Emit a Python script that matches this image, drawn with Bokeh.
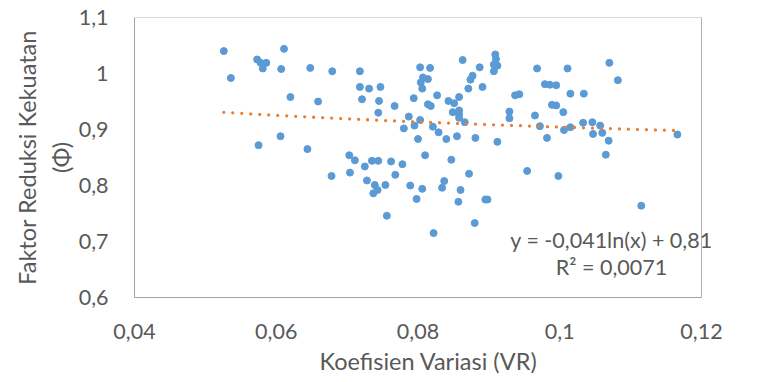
import numpy as np
from bokeh.plotting import figure
from bokeh.models import Range1d, FixedTicker, CustomJSTickFormatter, Label, Title, BoxAnnotation
from bokeh.embed import file_html
from bokeh.resources import INLINE

# Koefisien Variasi (VR)
vr = [0.0526, 0.0536, 0.0573, 0.0578, 0.0581, 0.0586, 0.0607, 0.0611, 0.0648, 0.0620, 0.0659, 0.0679,
      0.0575, 0.0606, 0.0644, 0.0678,
      0.0718, 0.0718, 0.0731, 0.0747, 0.0721, 0.0745, 0.0744, 0.0767, 0.0703, 0.0711, 0.0725, 0.0735,
      0.0744, 0.0762, 0.0704, 0.0728, 0.0739, 0.0743, 0.0737, 0.0754, 0.0768, 0.0756, 0.0778,
      0.0780, 0.0787, 0.0803, 0.0817, 0.0807, 0.0814, 0.0804, 0.0806, 0.0794, 0.0827, 0.0814, 0.0818,
      0.0803, 0.0795, 0.0800, 0.0821, 0.0829, 0.0840, 0.0855, 0.0881, 0.0912, 0.0863, 0.0843, 0.0851,
      0.0849, 0.0858, 0.0858, 0.0858, 0.0858, 0.0866, 0.0871, 0.0874, 0.0877, 0.0887, 0.0891, 0.0909,
      0.0910, 0.0907, 0.0912, 0.0907, 0.0937, 0.0943, 0.0929, 0.0929, 0.0810, 0.0847, 0.0872, 0.0789,
      0.0806, 0.0798, 0.0837, 0.0834, 0.0860, 0.0857, 0.0895, 0.0898, 0.0880, 0.0822,
      0.0968, 0.1011, 0.1070, 0.1082, 0.0979, 0.0986, 0.0995, 0.1015, 0.1034, 0.0989, 0.0995, 0.1005,
      0.0965, 0.0972, 0.0982, 0.1006, 0.1015, 0.1033, 0.1046, 0.1047, 0.1057, 0.1060, 0.1069, 0.1166,
      0.0954, 0.0998, 0.1065, 0.1115]

# Faktor Reduksi Kekuatan (phi)
phi = [1.040, 0.992, 1.025, 1.019, 1.009, 1.019, 1.008, 1.044, 1.010, 0.958, 0.950, 1.004,
       0.872, 0.888, 0.865, 0.817,
       1.004, 0.976, 0.973, 0.976, 0.954, 0.951, 0.930, 0.942, 0.854, 0.845, 0.834, 0.844,
       0.844, 0.843, 0.823, 0.809, 0.801, 0.792, 0.786, 0.801, 0.819, 0.746, 0.838,
       0.902, 0.923, 1.011, 1.010, 0.993, 0.990, 0.984, 0.973, 0.956, 0.961, 0.945, 0.942,
       0.917, 0.907, 0.883, 0.905, 0.895, 0.883, 0.888, 0.885, 0.878, 1.024, 0.951, 0.947,
       0.931, 0.958, 0.934, 0.927, 0.921, 0.913, 0.973, 0.989, 0.996, 1.011, 0.976, 1.034,
       1.026, 1.016, 1.014, 1.004, 0.961, 0.963, 0.932, 0.920, 0.854, 0.846, 0.821, 0.800,
       0.794, 0.776, 0.808, 0.796, 0.792, 0.771, 0.775, 0.775, 0.733, 0.715,
       1.009, 1.009, 1.019, 0.988, 0.981, 0.980, 0.979, 0.964, 0.964, 0.944, 0.943, 0.931,
       0.925, 0.906, 0.885, 0.899, 0.904, 0.912, 0.913, 0.892, 0.907, 0.894, 0.880, 0.891,
       0.826, 0.817, 0.855, 0.764]

x_ticks = [0.04, 0.06, 0.08, 0.10, 0.12]
y_ticks = [0.6, 0.7, 0.8, 0.9, 1.0, 1.1]
x_min, x_max = 0.04, 0.12
y_min, y_max = 0.6, 1.1

# logarithmic trendline: y = a*ln(x) + b
trend_a = -0.041
trend_b = 0.81
equation_text = "y = -0,041ln(x) + 0,81"
r2_text = "R² = 0,0071"
x_title = "Koefisien Variasi (VR)"
y_title_lines = ["Faktor Reduksi Kekuatan", "(Φ)"]

FONT = "Lato"
GREY = "#595959"
FS = "21.5px"
TITLE_FS = "23.5px"

# plot area: 567 px for 0.04..0.12; frame extended 21 px to the right so the
# trendline label can overhang the plot-area border like in the original
PLOT_W = 567
EXTRA_R = 21
x_end = x_max + (x_max - x_min) * EXTRA_R / PLOT_W

p = figure(width=760, height=382, output_backend="svg", toolbar_location=None,
           x_range=Range1d(x_min, x_end), y_range=Range1d(y_min, y_max),
           min_border_left=134, min_border_right=760 - 134 - PLOT_W - EXTRA_R,
           min_border_top=17, min_border_bottom=85)
p.xgrid.visible = False
p.ygrid.visible = False
p.outline_line_color = None
p.background_fill_color = "white"
p.border_fill_color = "white"

# plot-area border
p.add_layout(BoxAnnotation(left=x_min, right=x_max, bottom=y_min, top=y_max,
                           fill_color=None, line_color="#000000", line_width=1))

fmt = CustomJSTickFormatter(code="return String(Number(tick.toFixed(4))).replace('.', ',');")
for ax in (p.xaxis[0], p.yaxis[0]):
    ax.formatter = fmt
    ax.major_tick_line_color = None
    ax.minor_tick_line_color = None
    ax.axis_line_color = "#bfbfbf"
    ax.major_label_text_font = FONT
    ax.major_label_text_font_size = FS
    ax.major_label_text_color = GREY
p.xaxis[0].ticker = FixedTicker(ticks=x_ticks)
p.yaxis[0].ticker = FixedTicker(ticks=y_ticks)
p.xaxis[0].bounds = (x_min, x_max)
p.xaxis[0].major_label_standoff = 20
p.yaxis[0].major_label_standoff = 20

p.scatter(vr, phi, size=7, fill_color="#5b9bd5", line_color="#5b9bd5")

tx = np.linspace(min(vr), max(vr), 200)
ty = trend_a * np.log(tx) + trend_b
p.line(tx, ty, line_color="#ed7d31", line_width=3.3, line_dash="0 9", line_cap="round")

def lab(text, x, y):
    p.add_layout(Label(x=x, y=y, x_units="screen", y_units="screen", text=text,
                       text_align="center", text_baseline="middle", text_font=FONT,
                       text_font_size=FS, text_color=GREY))

lab(equation_text, 477, 58)
lab(r2_text, 477, 31)

def title(text, side, standoff):
    p.add_layout(Title(text=text, align="center", text_font=FONT, text_font_size=TITLE_FS,
                       text_font_style="normal", text_color=GREY, standoff=standoff), side)

title(x_title, "below", 6)
title(y_title_lines[1], "left", 2)
title(y_title_lines[0], "left", 6)

open("out.html", "w").write(file_html(p, INLINE))
